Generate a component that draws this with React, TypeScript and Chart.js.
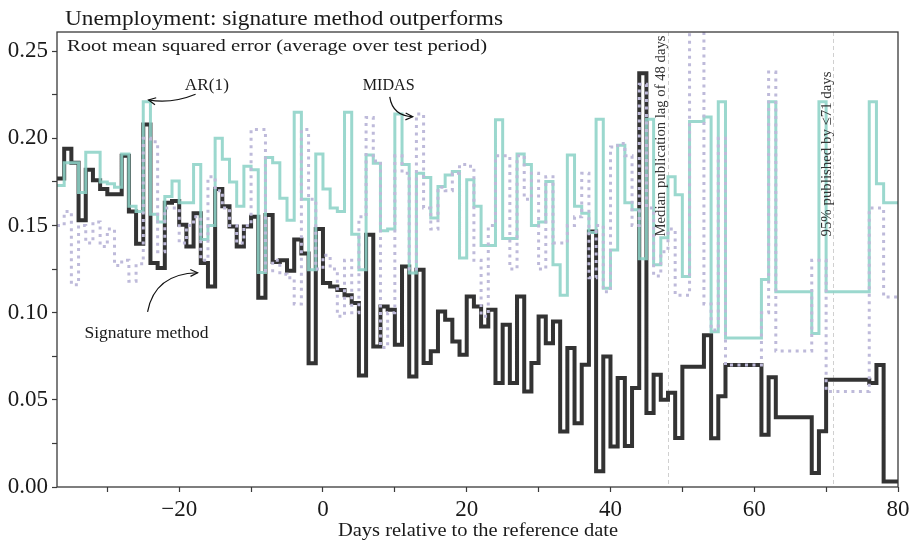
import React, { useEffect, useRef } from 'react';
import { Chart, registerables } from 'chart.js';
Chart.register(...registerables);

const START_DAY = -37;
const END_DAY = 80;

const signature = [
  0.177, 0.194, 0.186, 0.153, 0.182, 0.176, 0.171, 0.168, 0.168, 0.190,
  0.158, 0.1395, 0.208, 0.1285, 0.1256, 0.163, 0.164, 0.1505, 0.138, 0.157,
  0.1285, 0.115, 0.171, 0.161, 0.1495, 0.138, 0.1495, 0.155, 0.1085, 0.156,
  0.129, 0.130, 0.124, 0.142, 0.134, 0.071, 0.148, 0.117, 0.115, 0.113,
  0.110, 0.1055, 0.064, 0.1447, 0.0806, 0.1036, 0.1017, 0.0816, 0.1265, 0.0634,
  0.1246, 0.0711, 0.0778, 0.1007, 0.0959, 0.0835, 0.0759, 0.1093, 0.1036, 0.0921,
  0.1017, 0.0596, 0.0930, 0.0596, 0.1093, 0.0548, 0.0711, 0.0978, 0.0825, 0.0950,
  0.0319, 0.0797, 0.0366, 0.0701, 0.1466, 0.009, 0.0749, 0.0233, 0.0625, 0.0235,
  0.0568, 0.2374, 0.0424, 0.0644, 0.050, 0.054, 0.0281, 0.069, 0.069, 0.069,
  0.087, 0.028, 0.052, 0.070, 0.070, 0.070, 0.070, 0.070, 0.030, 0.063,
  0.040, 0.040, 0.040, 0.040, 0.040, 0.008, 0.032, 0.0615, 0.0615, 0.0615,
  0.0615, 0.0615, 0.0615, 0.0596, 0.070, 0.0032, 0.0032,
];

const ar1 = [
  0.173, 0.186, 0.186, 0.169, 0.192, 0.192, 0.175, 0.174, 0.172, 0.191,
  0.161, 0.158, 0.221, 0.1565, 0.152, 0.1666, 0.1756, 0.163, 0.163, 0.185,
  0.142, 0.150, 0.200, 0.188, 0.175, 0.161, 0.184, 0.182, 0.123, 0.189,
  0.186, 0.1657, 0.153, 0.215, 0.165, 0.1246, 0.191, 0.171, 0.160, 0.158,
  0.215, 0.145, 0.1246, 0.1905, 0.1857, 0.147, 0.148, 0.214, 0.185, 0.1227,
  0.180, 0.1775, 0.1543, 0.1724, 0.179, 0.181, 0.1313, 0.1762, 0.161, 0.1386,
  0.1386, 0.2106, 0.1425, 0.1425, 0.191, 0.185, 0.150, 0.152, 0.1752, 0.1275,
  0.110, 0.1905, 0.161, 0.157, 0.146, 0.211, 0.114, 0.136, 0.196, 0.163,
  0.159, 0.131, 0.211, 0.1275, 0.143, 0.178, 0.1676, 0.1207, 0.2097, 0.2097,
  0.2122, 0.089, 0.221, 0.0854, 0.0854, 0.0854, 0.0854, 0.0854, 0.119, 0.221,
  0.112, 0.112, 0.112, 0.112, 0.112, 0.088, 0.221, 0.112, 0.112, 0.112,
  0.112, 0.112, 0.112, 0.221, 0.174, 0.163, 0.163,
];

const midas = [
  0.150, 0.158, 0.116, 0.150, 0.140, 0.152, 0.138, 0.148, 0.127, 0.130,
  0.118, 0.128, 0.200, 0.198, 0.135, 0.160, 0.160, 0.140, 0.150, 0.155,
  0.130, 0.178, 0.170, 0.160, 0.150, 0.140, 0.150, 0.205, 0.205, 0.124,
  0.130, 0.122, 0.120, 0.105, 0.205, 0.165, 0.125, 0.133, 0.125, 0.098,
  0.130, 0.100, 0.155, 0.212, 0.187, 0.080, 0.100, 0.190, 0.180, 0.125,
  0.214, 0.160, 0.148, 0.172, 0.170, 0.180, 0.185, 0.184, 0.130, 0.098,
  0.150, 0.190, 0.190, 0.125, 0.190, 0.165, 0.180, 0.125, 0.178, 0.140,
  0.140, 0.150, 0.155, 0.180, 0.120, 0.150, 0.112, 0.195, 0.197, 0.190,
  0.150, 0.231, 0.160, 0.121, 0.135, 0.148, 0.110, 0.110, 0.275, 0.275,
  0.105, 0.090, 0.200, 0.070, 0.070, 0.070, 0.070, 0.070, 0.100, 0.238,
  0.078, 0.078, 0.078, 0.078, 0.078, 0.130, 0.130, 0.0548, 0.0548, 0.0548,
  0.0548, 0.0548, 0.0548, 0.160, 0.160, 0.109, 0.109,
];

const days = signature.map((_, i) => START_DAY + i);
const xTicks = [-30, -20, -10, 0, 10, 20, 30, 40, 50, 60, 70, 80];
const yTicks = [0, 0.025, 0.05, 0.075, 0.1, 0.125, 0.15, 0.175, 0.2, 0.225, 0.25];
const publicationLines = [48, 71];

const SERIF = '"Liberation Serif", "Times New Roman", serif';

function toPoints(vals: number[]) {
  const pts = vals.map((v, i) => ({ x: days[i], y: v }));
  pts.push({ x: END_DAY, y: vals[vals.length - 1] });
  return pts;
}

function fitText(ctx: CanvasRenderingContext2D, text: string, x: number, y: number, width: number, size: number, align: CanvasTextAlign) {
  ctx.font = `${size}px ${SERIF}`;
  const w = ctx.measureText(text).width;
  const s = width / w;
  ctx.save();
  ctx.translate(x, y);
  ctx.scale(s, 1);
  ctx.textAlign = align;
  ctx.textBaseline = 'alphabetic';
  ctx.fillText(text, 0, 0);
  ctx.restore();
}

function curvedArrow(ctx: CanvasRenderingContext2D, s: number[], c: number[], e: number[]) {
  ctx.beginPath();
  ctx.moveTo(s[0], s[1]);
  ctx.quadraticCurveTo(c[0], c[1], e[0], e[1]);
  ctx.stroke();
  const ang = Math.atan2(e[1] - c[1], e[0] - c[0]);
  const L = 8;
  const spread = 0.45;
  ctx.beginPath();
  ctx.moveTo(e[0] - L * Math.cos(ang - spread), e[1] - L * Math.sin(ang - spread));
  ctx.lineTo(e[0], e[1]);
  ctx.lineTo(e[0] - L * Math.cos(ang + spread), e[1] - L * Math.sin(ang + spread));
  ctx.stroke();
}

const annotations = {
  id: 'annotations',
  beforeDatasetsDraw(chart: any) {
    const { ctx, chartArea: a, scales } = chart;
    ctx.save();
    ctx.strokeStyle = '#d0d0d0';
    ctx.lineWidth = 1;
    ctx.setLineDash([4, 3]);
    for (const v of publicationLines) {
      const px = Math.round(scales.x.getPixelForValue(v)) + 0.5;
      ctx.beginPath();
      ctx.moveTo(px, a.top);
      ctx.lineTo(px, a.bottom);
      ctx.stroke();
    }
    ctx.restore();
  },
  afterDraw(chart: any) {
    const { ctx, chartArea: a, scales } = chart;
    const P = (dx: number, dy: number) => [scales.x.getPixelForValue(dx), scales.y.getPixelForValue(dy)];
    ctx.save();
    ctx.strokeStyle = '#3a3a3a';
    ctx.lineWidth = 1.3;
    ctx.strokeRect(a.left, a.top, a.right - a.left, a.bottom - a.top);

    ctx.fillStyle = '#1a1a1a';
    fitText(ctx, 'Unemployment: signature method outperforms', 65, 25, 438, 22, 'left');
    fitText(ctx, 'Root mean squared error (average over test period)', 67, 51, 420, 17, 'left');
    const ar = P(-16.15, 0.2278);
    fitText(ctx, 'AR(1)', ar[0], ar[1], 44, 16, 'center');
    const mi = P(9.14, 0.2278);
    fitText(ctx, 'MIDAS', mi[0], mi[1], 52, 16, 'center');
    const sg = P(-24.55, 0.0853);
    fitText(ctx, 'Signature method', sg[0], sg[1], 124, 16, 'center');
    fitText(ctx, 'Days relative to the reference date', 478, 536, 280, 18, 'center');

    ctx.strokeStyle = '#111';
    ctx.lineWidth = 1.2;
    curvedArrow(ctx, P(-17.72, 0.2253), P(-21.06, 0.2197), P(-24.27, 0.222));
    curvedArrow(ctx, P(9.29, 0.2238), P(9.7, 0.2129), P(12.49, 0.2124));
    curvedArrow(ctx, P(-24.4, 0.1005), P(-23.4, 0.1223), P(-17.44, 0.1229));

    const rot = (text: string, dx: number, dy: number, len: number) => {
      const p = P(dx, dy);
      ctx.save();
      ctx.translate(p[0], p[1]);
      ctx.rotate(-Math.PI / 2);
      ctx.font = `15px ${SERIF}`;
      const w = ctx.measureText(text).width;
      ctx.scale(len / w, 1);
      ctx.textAlign = 'left';
      ctx.textBaseline = 'middle';
      ctx.fillStyle = '#333';
      ctx.fillText(text, 0, 0);
      ctx.restore();
    };
    rot('Median publication lag of 48 days', 47.1, 0.1437, 201);
    rot('95% published by \u226471 days', 70.2, 0.1437, 165);
    ctx.restore();
  },
};

export default function App() {
  const ref = useRef<HTMLCanvasElement | null>(null);
  useEffect(() => {
    if (!ref.current) return;
    const chart = new Chart(ref.current, {
      type: 'line',
      data: {
        datasets: [
          {
            label: 'Signature method',
            data: toPoints(signature),
            stepped: 'before',
            borderColor: '#333333',
            borderWidth: 4,
            pointRadius: 0,
            borderJoinStyle: 'miter',
            order: 3,
          },
          {
            label: 'AR(1)',
            data: toPoints(ar1),
            stepped: 'before',
            borderColor: 'rgba(141,211,199,0.88)',
            borderWidth: 3,
            pointRadius: 0,
            borderJoinStyle: 'miter',
            order: 2,
          },
          {
            label: 'MIDAS',
            data: toPoints(midas),
            stepped: 'before',
            borderColor: '#bebada',
            borderWidth: 3,
            borderDash: [3, 4.5],
            pointRadius: 0,
            borderJoinStyle: 'miter',
            order: 1,
          },
        ],
      },
      options: {
        animation: false,
        responsive: false,
        maintainAspectRatio: false,
        layout: { padding: { left: 0, right: 12, top: 32, bottom: 0 } },
        plugins: { legend: { display: false }, tooltip: { enabled: false }, title: { display: false } },
        scales: {
          x: {
            type: 'linear',
            min: START_DAY,
            max: END_DAY,
            afterBuildTicks: (s: any) => { s.ticks = xTicks.map((v) => ({ value: v })); },
            afterFit: (s: any) => { s.height = 54; s.paddingLeft = 0; s.paddingRight = 0; },
            ticks: {
              autoSkip: false,
              maxRotation: 0,
              padding: 4,
              color: '#1a1a1a',
              font: { family: SERIF, size: 23 },
              callback: (v: any) => (Number(v) % 20 === 0 ? (Number(v) < 0 ? '\u2212' + Math.abs(Number(v)) : String(v)) : ''),
            },
            grid: { display: true, drawOnChartArea: false, drawTicks: true, tickLength: 5, tickColor: '#3a3a3a', tickWidth: 1.2 },
            border: { display: false },
          },
          y: {
            type: 'linear',
            min: 0,
            max: 0.261,
            afterBuildTicks: (s: any) => { s.ticks = yTicks.map((v) => ({ value: v })); },
            afterFit: (s: any) => { s.width = 57; s.paddingTop = 0; s.paddingBottom = 0; },
            ticks: {
              autoSkip: false,
              padding: 4,
              color: '#1a1a1a',
              font: { family: SERIF, size: 23 },
              callback: (v: any) => (Math.round(Number(v) * 1000) % 50 === 0 ? Number(v).toFixed(2) : ''),
            },
            grid: { display: true, drawOnChartArea: false, drawTicks: true, tickLength: 5, tickColor: '#3a3a3a', tickWidth: 1.2 },
            border: { display: false },
          },
        },
      },
      plugins: [annotations],
    } as any);
    return () => chart.destroy();
  }, []);
  return (
    <div style={{ position: 'fixed', left: 0, top: 0, width: 910, height: 541, background: '#fff' }}>
      <canvas ref={ref} width={910} height={541} style={{ width: 910, height: 541, display: 'block' }} />
    </div>
  );
}
